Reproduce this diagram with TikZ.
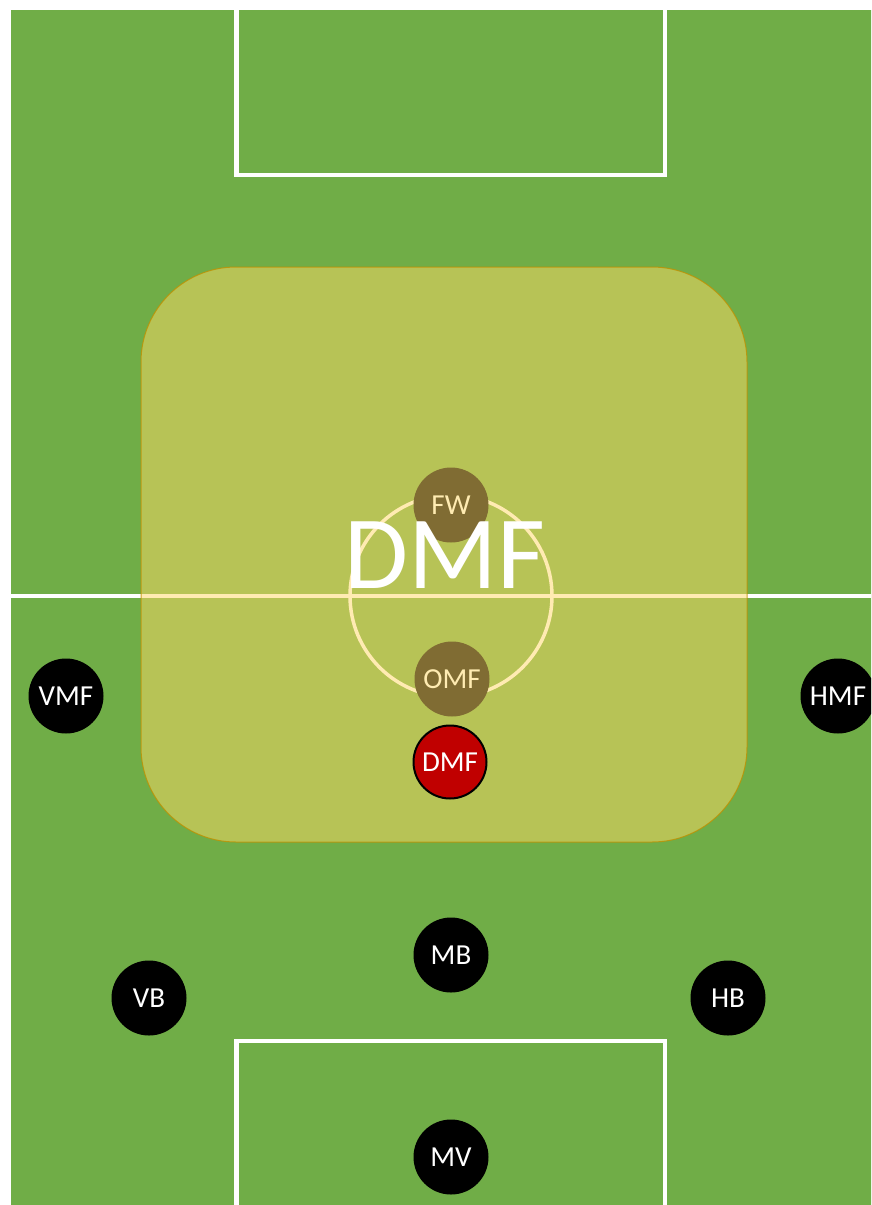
\documentclass[tikz,border=0pt]{standalone}
\usepackage{fontspec}
\setmainfont{Carlito}
\definecolor{field}{HTML}{70AD47}
\definecolor{zone}{HTML}{FFD966}
\definecolor{zoneedge}{HTML}{BF9000}
\definecolor{dmfred}{HTML}{C00000}
\begin{document}
\begin{tikzpicture}[x=1pt,y=-1pt,
  pitchline/.style={draw=white, line width=4.5pt},
  player/.style={circle, fill=black, minimum size=75pt, inner sep=0pt, text=white, font=\fontsize{29}{29}\selectfont},
  focus/.style={player, fill=dmfred, draw=black, line width=2pt, minimum size=73pt},
  zonebox/.style={draw=zoneedge, line width=1pt, fill=zone, fill opacity=0.5, draw opacity=0.8, rounded corners=95pt}]
\useasboundingbox (0,0) rectangle (871,1205);
\begin{scope}
\clip (0,0) rectangle (871,1205);
\fill[white] (0,0) rectangle (871,1205);
\fill[field] (10.5,10) rectangle (890,1220);
% top penalty box
\draw[pitchline] (236.5,5) -- (236.5,175) -- (665,175) -- (665,5);
% halfway line
\draw[pitchline, line width=4.5pt] (10.5,596) -- (890,596);
% centre circle
\draw[pitchline, line width=3.5pt] (451,596) circle (101pt);
% bottom penalty box
\draw[pitchline] (236.5,1220) -- (236.5,1041) -- (665,1041) -- (665,1220);
% players under the zone
\node[player] (FW) at (451,505) {FW};
\node[player] (OMF) at (452,679) {OMF};
% zone
\draw[zonebox] (141,267) rectangle (747,842);
\node[text=white, font=\fontsize{104}{104}\selectfont, anchor=base, inner sep=0pt] (zonelabel) at (445,588) {DMF};
% other players
\node[focus] (DMF) at (450,762) {DMF};
\node[player] (VMF) at (66,696) {VMF};
\node[player] (HMF) at (838,696) {HMF};
\node[player] (MB) at (451,955) {MB};
\node[player] (VB) at (149,998) {VB};
\node[player] (HB) at (728,998) {HB};
\node[player] (MV) at (451,1157) {MV};
\end{scope}
\end{tikzpicture}
\end{document}
